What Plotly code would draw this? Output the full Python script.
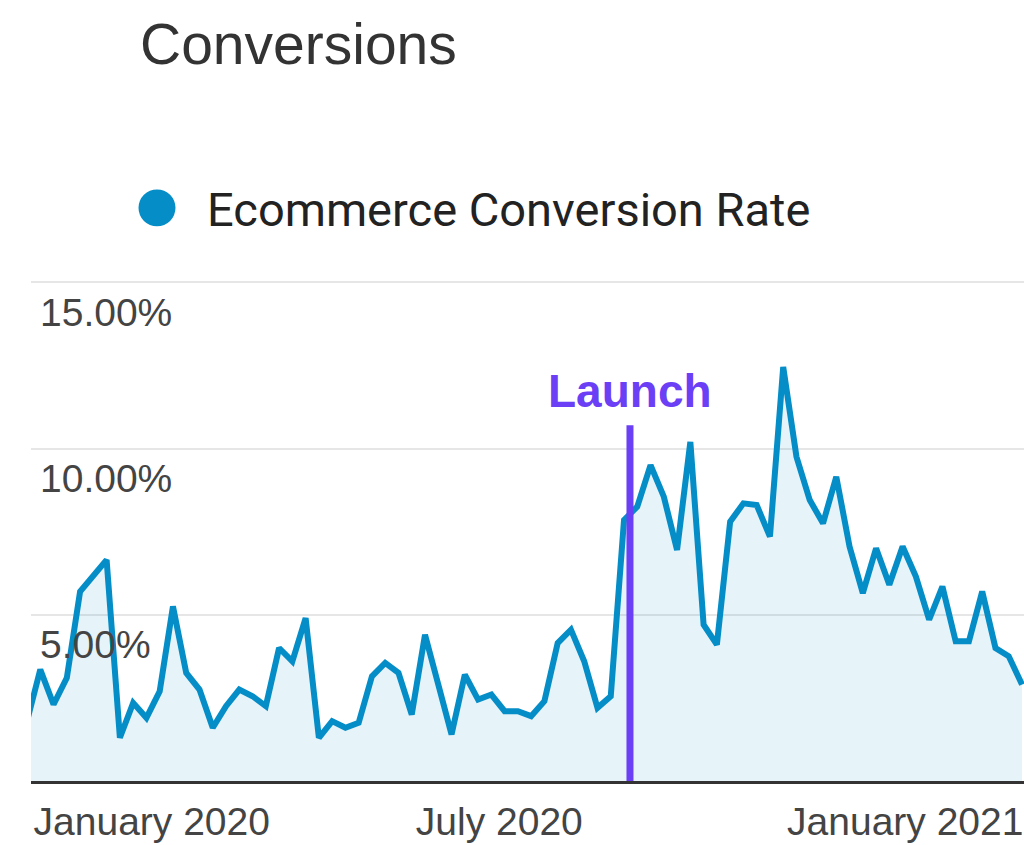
import plotly.graph_objects as go

# ---- data (weekly points) ----
week_index = list(range(76))
conversion_rate = [
    1.8, 3.35, 2.3, 3.1, 5.7, 6.15, 6.65, 1.3, 2.35, 1.9,
    2.7, 5.25, 3.25, 2.75, 1.6, 2.25, 2.75, 2.55, 2.25, 4.0,
    3.6, 4.9, 1.3, 1.8, 1.6, 1.75, 3.15, 3.55, 3.25, 2.0,
    4.4, 2.9, 1.4, 3.2, 2.45, 2.6, 2.1, 2.1, 1.95, 2.4,
    4.15, 4.55, 3.6, 2.2, 2.55, 7.85, 8.25, 9.5, 8.55, 6.95,
    10.2, 4.7, 4.1, 7.8, 8.35, 8.3, 7.35, 12.45, 9.75, 8.45,
    7.75, 9.15, 7.05, 5.65, 7.0, 5.9, 7.05, 6.15, 4.85, 5.85,
    4.2, 4.2, 5.7, 4.0, 3.75, 2.9,
]
x_tick_positions = [9.4, 35.6, 66.2]
x_tick_labels = ["January 2020", "July 2020", "January 2021"]
y_tick_values = [5, 10, 15]
y_tick_labels = ["5.00%", "10.00%", "15.00%"]
launch_index = 45.45
launch_top = 10.7
launch_label = "Launch"
series_name = "Ecommerce Conversion Rate"
chart_title = "Conversions"

BLUE = "#058DC7"
PURPLE = "#6B3FF5"

W, H = 1024, 845
Y_MAX = 16.0
PX_PER_UNIT = 33.3
L, R, B = 31, 0, 63.5
T = (H - B) - Y_MAX * PX_PER_UNIT
pw, ph = W - L - R, H - T - B


def px_x(px):
    return (px - L) / pw


def px_y(py):
    return (H - B - py) / ph


fig = go.Figure()
fig.add_trace(go.Scatter(
    x=week_index, y=conversion_rate, mode="lines",
    line=dict(color=BLUE, width=6), fill="tozeroy",
    fillcolor="rgba(5,141,199,0.1)", name=series_name, showlegend=False,
    hoverinfo="skip",
))

# launch marker
fig.add_shape(type="line", xref="x", yref="y", x0=launch_index, x1=launch_index,
              y0=0, y1=launch_top, line=dict(color=PURPLE, width=7), layer="above")
fig.add_annotation(x=launch_index, y=launch_top, xref="x", yref="y",
                   text="<b>%s</b>" % launch_label, showarrow=False,
                   yanchor="bottom", yshift=6,
                   font=dict(family="Liberation Sans", size=46, color=PURPLE))

# legend (big dot + label)
r = 18.5
fig.add_shape(type="circle", xref="paper", yref="paper",
              x0=px_x(157 - r), x1=px_x(157 + r), y0=px_y(207.5 + r), y1=px_y(207.5 - r),
              fillcolor=BLUE, line=dict(width=0))
fig.add_annotation(x=px_x(205), y=px_y(209), xref="paper", yref="paper",
                   text=series_name, showarrow=False, xanchor="left", yanchor="middle",
                   font=dict(family="Roboto", size=47, color="#222222"))

fig.update_layout(
    width=W, height=H,
    margin=dict(l=L, r=R, t=T, b=B, pad=0, autoexpand=False),
    paper_bgcolor="white", plot_bgcolor="white",
    showlegend=False,
    title=dict(text=chart_title, x=140 / W, xanchor="left", xref="container",
               y=1 - 44 / H, yanchor="middle", yref="container",
               font=dict(family="Liberation Sans", size=57, color="#333333")),
    xaxis=dict(range=[0.3, 75.15], tickvals=x_tick_positions, ticktext=x_tick_labels,
               showgrid=False, zeroline=False, showline=True, linecolor="#333333",
               linewidth=3, ticks="", automargin=False, tickangle=0,
               ticklabeloverflow="allow", ticklabelstandoff=4,
               tickfont=dict(family="Liberation Sans", size=39, color="#444444")),
    yaxis=dict(range=[0, Y_MAX], tickvals=y_tick_values, ticktext=y_tick_labels,
               showgrid=True, gridcolor="#E6E6E6", gridwidth=2, zeroline=False,
               showline=False, ticks="", ticklabelposition="inside", automargin=False,
               ticklabelshift=30, ticklabelstandoff=6, ticklabeloverflow="allow",
               tickfont=dict(family="Liberation Sans", size=39, color="#444444")),
)

fig.write_html("out.html")
